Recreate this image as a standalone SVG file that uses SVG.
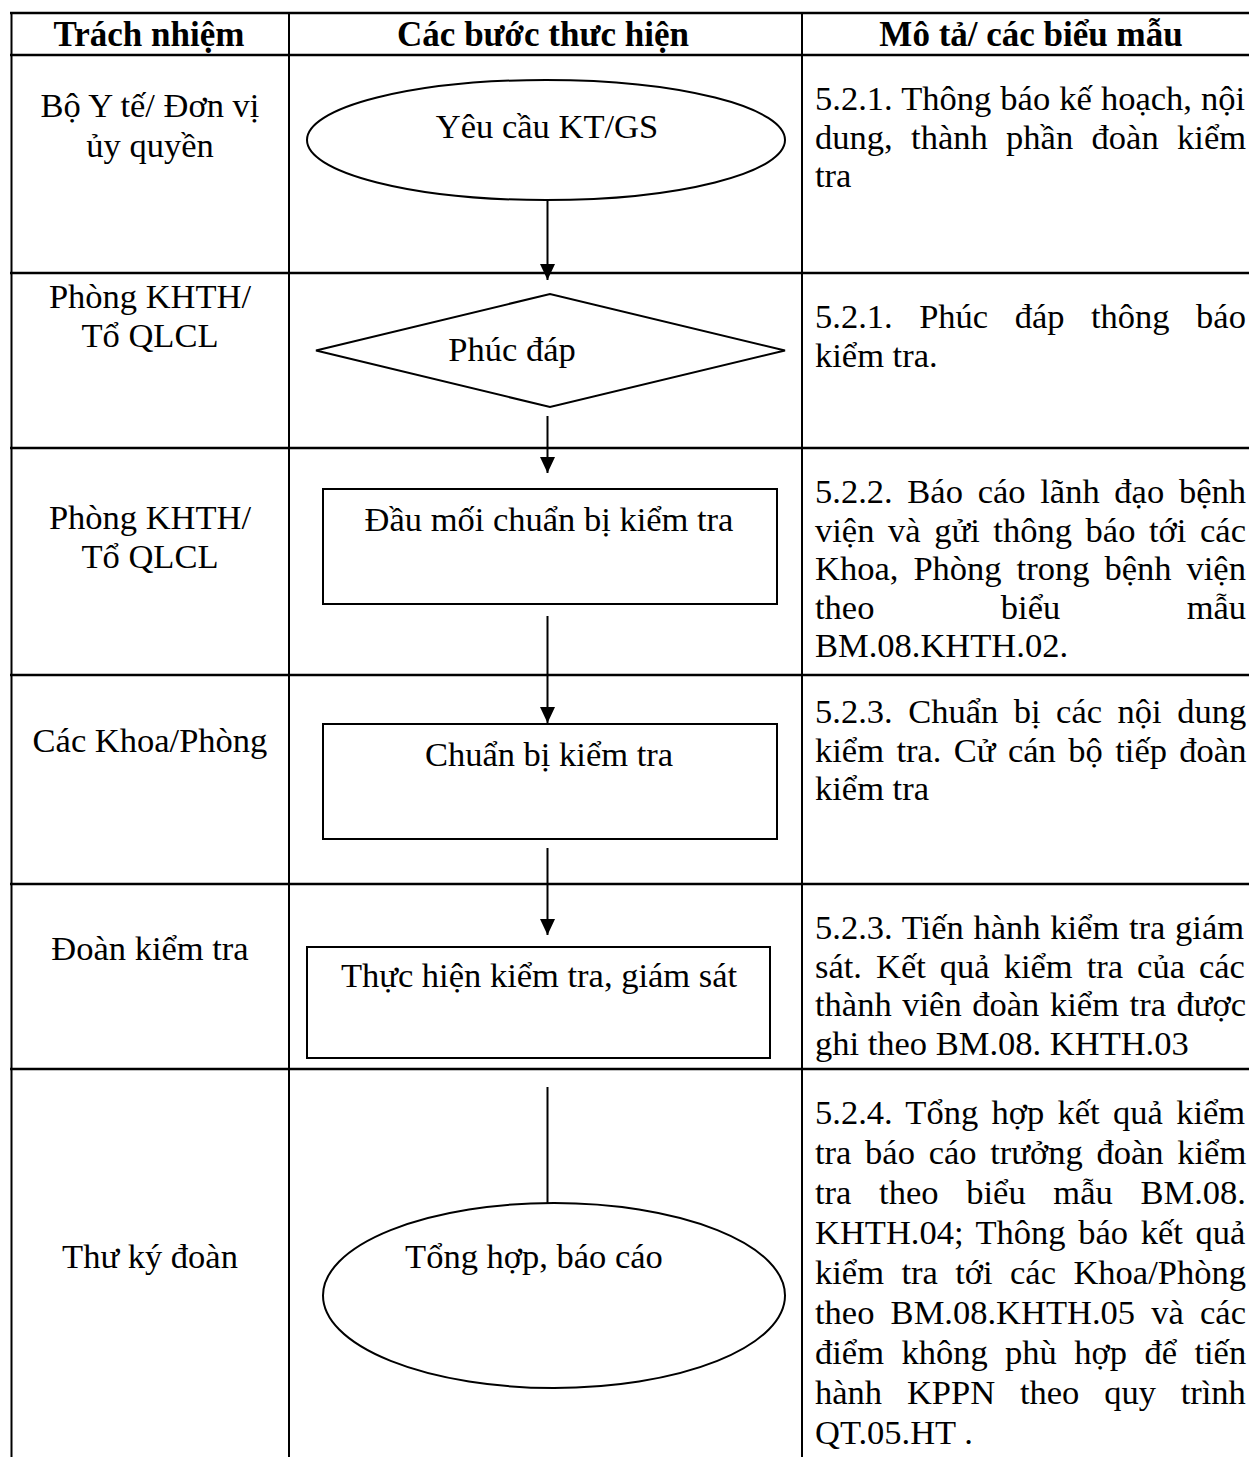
<svg xmlns="http://www.w3.org/2000/svg" width="1249" height="1457" viewBox="0 0 1249 1457">
<style>
text { font-family: "Liberation Serif", "Times New Roman", serif; font-size: 34.5px; fill: #000; }
.hd { font-weight: bold; font-size: 35px; text-anchor: middle; }
.c { text-anchor: middle; }
.grid-h { stroke: #000; stroke-width: 2.7; }
.grid-v { stroke: #000; stroke-width: 2; }
.shape { fill: #fff; stroke: #000; stroke-width: 2; }
.conn { stroke: #000; stroke-width: 2; fill: none; }
</style>
<defs>
<marker id="arrow" markerUnits="userSpaceOnUse" markerWidth="16" markerHeight="16" refX="16" refY="7.5" orient="auto">
<path d="M0,0 L16,7.5 L0,15 z" fill="#000"/>
</marker>
</defs>
<rect x="0" y="0" width="1249" height="1457" fill="#fff"/>

<g id="table">
<line class="grid-h" x1="10" y1="13" x2="1249" y2="13"/>
<line class="grid-h" x1="10" y1="55" x2="1249" y2="55"/>
<line class="grid-h" x1="10" y1="273" x2="1249" y2="273"/>
<line class="grid-h" x1="10" y1="448" x2="1249" y2="448"/>
<line class="grid-h" x1="10" y1="675" x2="1249" y2="675"/>
<line class="grid-h" x1="10" y1="884" x2="1249" y2="884"/>
<line class="grid-h" x1="10" y1="1069" x2="1249" y2="1069"/>
<line class="grid-v" x1="11.5" y1="12" x2="11.5" y2="1457"/>
<line class="grid-v" x1="289" y1="12" x2="289" y2="1457"/>
<line class="grid-v" x1="802" y1="12" x2="802" y2="1457"/>
</g>

<g id="header">
<text class="hd" x="149" y="46">Trách nhiệm</text>
<text class="hd" x="543" y="46">Các bước thưc hiện</text>
<text class="hd" x="1031" y="46">Mô tả/ các biểu mẫu</text>
</g>

<g id="responsibility">
<text class="c" x="150" y="117">Bộ Y tế/ Đơn vị</text>
<text class="c" x="150" y="157">ủy quyền</text>
<text class="c" x="150" y="308">Phòng KHTH/</text>
<text class="c" x="150" y="347">Tổ QLCL</text>
<text class="c" x="150" y="529">Phòng KHTH/</text>
<text class="c" x="150" y="568">Tổ QLCL</text>
<text class="c" x="150" y="752">Các Khoa/Phòng</text>
<text class="c" x="150" y="960">Đoàn kiểm tra</text>
<text class="c" x="150" y="1268">Thư ký đoàn</text>
</g>

<g id="connectors">
<line class="conn" x1="547.5" y1="200" x2="547.5" y2="280" marker-end="url(#arrow)"/>
<line class="conn" x1="547.5" y1="416" x2="547.5" y2="473" marker-end="url(#arrow)"/>
<line class="conn" x1="547.5" y1="616" x2="547.5" y2="723" marker-end="url(#arrow)"/>
<line class="conn" x1="547.5" y1="848" x2="547.5" y2="935" marker-end="url(#arrow)"/>
<line class="conn" x1="547.5" y1="1087" x2="547.5" y2="1203"/>
</g>

<g id="node-yeu-cau">
<ellipse class="shape" cx="546" cy="140" rx="239" ry="60"/>
<text class="c" x="547" y="138">Yêu cầu KT/GS</text>
</g>

<g id="node-phuc-dap">
<polygon class="shape" points="316,350.5 550,294 785,350.5 550,407"/>
<text class="c" x="512" y="361">Phúc đáp</text>
</g>

<g id="node-dau-moi">
<rect class="shape" x="323" y="489" width="454" height="115"/>
<text class="c" x="549" y="531">Đầu mối chuẩn bị kiểm tra</text>
</g>

<g id="node-chuan-bi">
<rect class="shape" x="323" y="724" width="454" height="115"/>
<text class="c" x="549" y="766">Chuẩn bị kiểm tra</text>
</g>

<g id="node-thuc-hien">
<rect class="shape" x="307" y="947" width="463" height="111"/>
<text class="c" x="539" y="987">Thực hiện kiểm tra, giám sát</text>
</g>

<g id="node-tong-hop">
<ellipse class="shape" cx="554" cy="1295.5" rx="231" ry="92.5"/>
<text class="c" x="534" y="1268">Tổng hợp, báo cáo</text>
</g>

<g id="descriptions">
<text x="815" y="110" style="word-spacing:0.5px">5.2.1. Thông báo kế hoạch, nội</text>
<text x="815" y="148.6" style="word-spacing:9.8px">dung, thành phần đoàn kiểm</text>
<text x="815" y="187.2">tra</text>

<text x="815" y="328" style="word-spacing:17.9px">5.2.1. Phúc đáp thông báo</text>
<text x="815" y="366.6">kiểm tra.</text>

<text x="815" y="503" style="word-spacing:6.1px">5.2.2. Báo cáo lãnh đạo bệnh</text>
<text x="815" y="541.6" style="word-spacing:5px">viện và gửi thông báo tới các</text>
<text x="815" y="580.2" style="word-spacing:6.4px">Khoa, Phòng trong bệnh viện</text>
<text x="815" y="618.8" style="word-spacing:117.8px">theo biểu mẫu</text>
<text x="815" y="657.4">BM.08.KHTH.02.</text>

<text x="815" y="723" style="word-spacing:6.9px">5.2.3. Chuẩn bị các nội dung</text>
<text x="815" y="761.6" style="word-spacing:3.8px">kiểm tra. Cử cán bộ tiếp đoàn</text>
<text x="815" y="800.2">kiểm tra</text>

<text x="815" y="939" style="word-spacing:1.1px">5.2.3. Tiến hành kiểm tra giám</text>
<text x="815" y="977.6" style="word-spacing:5.4px">sát. Kết quả kiểm tra của các</text>
<text x="815" y="1016.2" style="word-spacing:2px">thành viên đoàn kiểm tra được</text>
<text x="815" y="1054.8">ghi theo BM.08. KHTH.03</text>

<text x="815" y="1124" style="word-spacing:4.7px">5.2.4. Tổng hợp kết quả kiểm</text>
<text x="815" y="1164" style="word-spacing:5.1px">tra báo cáo trưởng đoàn kiểm</text>
<text x="815" y="1204" style="word-spacing:19.1px">tra theo biểu mẫu BM.08.</text>
<text x="815" y="1244" style="word-spacing:4px">KHTH.04; Thông báo kết quả</text>
<text x="815" y="1284" style="word-spacing:8.8px">kiểm tra tới các Khoa/Phòng</text>
<text x="815" y="1324" style="word-spacing:7.6px">theo BM.08.KHTH.05 và các</text>
<text x="815" y="1364" style="word-spacing:8.8px">điểm không phù hợp để tiến</text>
<text x="815" y="1404" style="word-spacing:16.2px">hành KPPN theo quy trình</text>
<text x="815" y="1444">QT.05.HT .</text>
</g>
</svg>
